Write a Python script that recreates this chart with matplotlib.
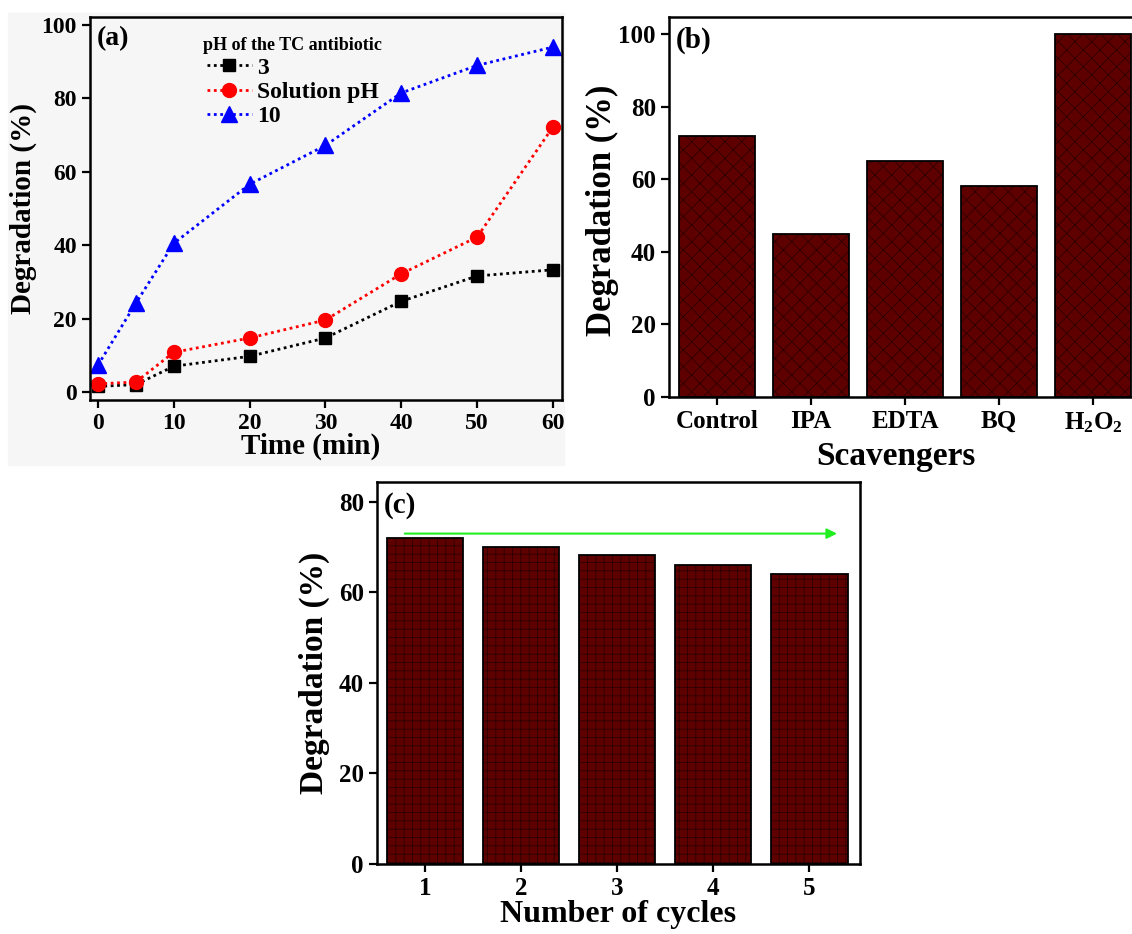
import numpy as np
import matplotlib
matplotlib.use('Agg')
import matplotlib.pyplot as plt
from matplotlib.patches import Rectangle

plt.rcParams['font.family'] = ['Liberation Serif', 'DejaVu Serif']
plt.rcParams['font.weight'] = 'bold'
plt.rcParams['mathtext.fontset'] = 'custom'
plt.rcParams['mathtext.rm'] = 'Liberation Serif:bold'
plt.rcParams['mathtext.default'] = 'rm'
plt.rcParams['hatch.linewidth'] = 0.5

# (a) degradation vs time at different pH
time_min = [0, 5, 10, 20, 30, 40, 50, 60]
deg_ph3 = [1.5, 2.0, 7.0, 9.7, 14.7, 24.7, 31.6, 33.3]
deg_sol = [2.2, 2.7, 10.8, 14.7, 19.6, 32.2, 42.2, 72.2]
deg_ph10 = [7.3, 24.2, 40.5, 56.6, 67.2, 81.5, 89.0, 94.0]

# (b) scavengers
scavengers = ['Control', 'IPA', 'EDTA', 'BQ', 'H$_2$O$_2$']
deg_scav = [72, 45, 65, 58, 100]

# (c) reuse cycles
cycles = [1, 2, 3, 4, 5]
deg_cycles = [72, 70, 68.2, 66, 64]

W, H = 1132, 934
fig = plt.figure(figsize=(W / 100, H / 100), dpi=100)


def px_axes(left, top, right, bottom):
    return fig.add_axes([left / W, 1 - bottom / H, (right - left) / W, (bottom - top) / H])


# light gray backdrop of panel (a)
fig.patches.append(Rectangle((8 / W, 1 - 465 / H), 556 / W, 452 / H,
                             transform=fig.transFigure, color='#f6f6f6', zorder=-5))

bar_face = '#5e0000'
bar_hatch = '#260000'


def style(ax, tsize, pad=3.5):
    for s in ax.spines.values():
        s.set_linewidth(1.8)
    ax.tick_params(direction='out', length=6, width=1.6, labelsize=tsize, pad=pad)
    for lab in ax.get_xticklabels() + ax.get_yticklabels():
        lab.set_fontweight('bold')


# ---- (a)
ax = px_axes(90, 17, 562, 400)
ax.set_facecolor('#f6f6f6')
ls = (0, (1, 1.3))
ax.plot(time_min, deg_ph3, color='black', ls=ls, lw=2, marker='s', ms=9, label='3')
ax.plot(time_min, deg_sol, color='red', ls=ls, lw=2, marker='o', ms=10, label='Solution pH')
ax.plot(time_min, deg_ph10, color='blue', ls=ls, lw=2, marker='^', ms=11, label='10')
ax.set_xlim(-1.05, 61.2)
ax.set_ylim(-2.2, 102.2)
ax.set_xticks(range(0, 61, 10))
ax.set_yticks(range(0, 101, 20))
ax.set_xlabel('Time (min)', fontsize=21, fontweight='bold')
ax.xaxis.set_label_coords(0.468, -0.085)
ax.set_ylabel('Degradation (%)', fontsize=21, fontweight='bold', labelpad=3)
ax.text(0.015, 0.975, '(a)', transform=ax.transAxes, fontsize=20, fontweight='bold', va='top')
leg = ax.legend(title='pH of the TC antibiotic', frameon=False, loc='upper left',
                bbox_to_anchor=(0.205, 0.99), fontsize=17, handlelength=1.9,
                handletextpad=0.2, labelspacing=0.12, borderaxespad=0.3)
leg.get_title().set_fontsize(13)
leg.get_title().set_fontweight('bold')
style(ax, 17)

# ---- (b)
ax = px_axes(669, 17, 1139, 397)
xb = np.arange(len(scavengers))
ax.bar(xb, deg_scav, width=0.8, color=bar_face, edgecolor=bar_hatch, hatch='xx', lw=0)
ax.bar(xb, deg_scav, width=0.8, fill=False, edgecolor='black', lw=1.3)
ax.set_xlim(-0.51, 4.49)
ax.set_ylim(0, 104.7)
ax.set_xticks(xb)
ax.set_xticklabels(scavengers)
ax.set_yticks(range(0, 101, 20))
ax.set_xlabel('Scavengers', fontsize=24, fontweight='bold')
ax.xaxis.set_label_coords(0.483, -0.115)
ax.set_ylabel('Degradation (%)', fontsize=25, fontweight='bold')
ax.yaxis.set_label_coords(-0.107, 0.49)
ax.text(0.015, 0.975, '(b)', transform=ax.transAxes, fontsize=21, fontweight='bold', va='top')
style(ax, 18)

# ---- (c)
ax = px_axes(377, 482, 860, 864)
ax.bar(cycles, deg_cycles, width=0.8, color=bar_face, edgecolor=bar_hatch, hatch='++', lw=0)
ax.bar(cycles, deg_cycles, width=0.8, fill=False, edgecolor='black', lw=1.3)
ax.annotate('', xy=(5.32, 73), xytext=(0.76, 73),
            arrowprops=dict(arrowstyle='-|>', color='#22ee22', lw=1.5, mutation_scale=15))
ax.set_xlim(0.5, 5.53)
ax.set_ylim(0, 84.4)
ax.set_xticks(cycles)
ax.set_yticks(range(0, 81, 20))
ax.set_xlabel('Number of cycles', fontsize=23, fontweight='bold', labelpad=0)
ax.set_ylabel('Degradation (%)', fontsize=24, fontweight='bold', labelpad=6)
ax.text(0.015, 0.975, '(c)', transform=ax.transAxes, fontsize=21, fontweight='bold', va='top')
style(ax, 18)

fig.savefig('out.png', dpi=100)
